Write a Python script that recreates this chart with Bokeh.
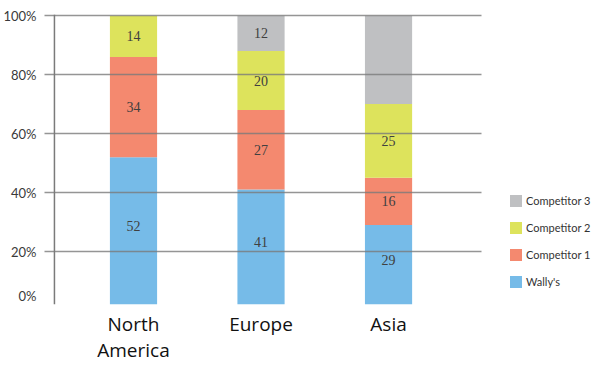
from bokeh.plotting import figure
from bokeh.models import (ColumnDataSource, Range1d, FixedTicker, Span, Legend, LegendItem)
from bokeh.core.properties import value
from bokeh.embed import file_html
from bokeh.resources import INLINE

# ---- data ----
regions = ["North\nAmerica", "Europe", "Asia"]
wallys = [52, 41, 29]
competitor1 = [34, 27, 16]
competitor2 = [14, 20, 25]
competitor3 = [0, 12, 30]
labels_wallys = ["52", "41", "29"]
labels_c1 = ["34", "27", "16"]
labels_c2 = ["14", "20", "25"]
labels_c3 = ["", "12", ""]
y_ticks = [5, 20, 40, 60, 80, 100]
y_tick_labels = ["0%", "20%", "40%", "60%", "80%", "100%"]

series_names = ["Wally's", "Competitor 1", "Competitor 2", "Competitor 3"]
colors = ["#76bbe8", "#f4896f", "#dde35c", "#bfc0c2"]

xs = list(range(len(regions)))
src = ColumnDataSource(dict(x=xs, w=wallys, c1=competitor1, c2=competitor2, c3=competitor3))

p = figure(frame_width=558, frame_height=290, output_backend="svg", toolbar_location=None,
           x_range=Range1d(-0.698, 3.678), y_range=Range1d(2.03, 100.4),
           min_border_left=39, min_border_right=0, min_border_top=14, min_border_bottom=10)
p.outline_line_color = None
p.background_fill_color = "white"
p.border_fill_color = "white"

rs = p.vbar_stack(["w", "c1", "c2", "c3"], x="x", width=0.37, color=colors,
                  line_color=None, source=src)

# segment labels
series = [wallys, competitor1, competitor2, competitor3]
labs = [labels_wallys, labels_c1, labels_c2, labels_c3]
for k, (s_vals, l_vals) in enumerate(zip(series, labs)):
    lx, ly, lt = [], [], []
    for i in xs:
        base = sum(series[j][i] for j in range(k))
        if l_vals[i]:
            lx.append(i)
            ly.append(base + s_vals[i] / 2)
            lt.append(l_vals[i])
    p.text(x=lx, y=ly, text=lt, text_align="center", text_baseline="middle",
           y_offset=-8 if k == 0 else 0,
           text_font=value("Liberation Serif"), text_font_size="14px", text_color="#404040")

# axes
p.xaxis.ticker = FixedTicker(ticks=xs)
p.xaxis.major_label_overrides = {i: r for i, r in zip(xs, regions)}
p.xaxis.axis_line_color = None
p.xaxis.major_tick_line_color = None
p.xaxis.minor_tick_line_color = None
p.xaxis.major_label_text_font = "Open Sans"
p.xaxis.major_label_text_font_size = "19px"
p.xaxis.major_label_text_line_height = 1.0
p.xaxis.major_label_text_color = "#111111"
p.xaxis.major_label_standoff = 0

p.yaxis.ticker = FixedTicker(ticks=y_ticks)
p.yaxis.major_label_overrides = {t: l for t, l in zip(y_ticks, y_tick_labels)}
p.yaxis.axis_line_color = None
p.yaxis.major_tick_line_color = None
p.yaxis.minor_tick_line_color = None
p.yaxis.major_label_text_font = "Lato"
p.yaxis.major_label_text_font_size = "13px"
p.yaxis.major_label_text_color = "#3a3a3a"
p.yaxis.major_label_standoff = 2

p.xgrid.grid_line_color = None
p.ygrid.ticker = FixedTicker(ticks=[20, 40, 60, 80, 100])
p.ygrid.cross_bounds = (-0.698, 2.729)
p.ygrid.grid_line_color = "#7a7a7a"
p.ygrid.grid_line_alpha = 0.8
p.ygrid.grid_line_width = 1.5
p.ygrid.level = "annotation"

p.add_layout(Span(location=-0.62, dimension="height", line_color="#7a7a7a", line_width=1.5))

items = [LegendItem(label=series_names[k], renderers=[rs[k]]) for k in [3, 2, 1, 0]]
legend = Legend(items=items, location=(464, 15), glyph_width=15, glyph_height=15,
                label_height=15, spacing=12, padding=0, margin=0, label_standoff=3,
                border_line_color=None, background_fill_alpha=0,
                label_text_font="Lato", label_text_font_size="11px",
                label_text_color="#333333")
p.add_layout(legend)

open("out.html", "w").write(file_html(p, INLINE))
